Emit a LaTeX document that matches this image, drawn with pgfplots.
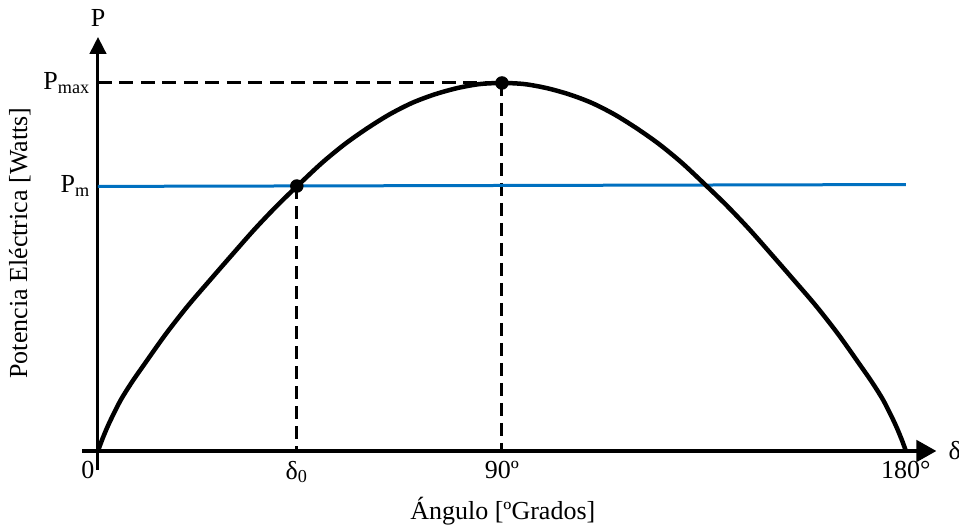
\documentclass[border=0pt]{standalone}
\usepackage{fontspec}
\setmainfont{Liberation Serif}
\usepackage{pgfplots}
\pgfplotsset{compat=1.18}
\usetikzlibrary{arrows.meta}
\definecolor{pmblue}{RGB}{0,112,192}

% Power-angle curve P(delta), per unit of Pmax
\pgfplotstableread{
d     p
0     0
1     0.033
2.5   0.076
5     0.137
7.5   0.186
10    0.230
15    0.316
20    0.394
25    0.465
30    0.535
35    0.604
40    0.668
45    0.727
50    0.784
55    0.834
60    0.877
65    0.915
70    0.946
75    0.969
80    0.986
85    0.997
90    1.000
95    0.997
100   0.986
105   0.969
110   0.946
115   0.915
120   0.877
125   0.834
130   0.784
135   0.727
140   0.668
145   0.604
150   0.535
155   0.465
160   0.394
165   0.316
170   0.230
172.5 0.186
175   0.137
177.5 0.076
179   0.033
180   0
}\curvetable

\begin{document}
\begin{tikzpicture}[font=\fontsize{10.4}{12}\selectfont]
\begin{axis}[
  scale only axis,
  width=383.6pt, height=212.4pt,
  xmin=-21.83, xmax=191.83,
  ymin=-0.2174, ymax=1.2255,
  axis lines=none,
  clip=false,
]
% axes
\draw[line width=1.6pt, -{Triangle[length=8pt,width=8.5pt]}]
  (axis cs:-3.56,0) -- (axis cs:186.8,0);
\draw[line width=1.2pt, -{Triangle[length=6.8pt,width=6.6pt]}]
  (axis cs:0,-0.052) -- (axis cs:0,1.125);

% guide lines
\addplot[black, line width=1.2pt, dash pattern=on 5.6pt off 3pt]
  coordinates {(0,1) (90,1)};
\addplot[black, line width=1.2pt, dash pattern=on 5.2pt off 2.8pt]
  coordinates {(90,1) (90,0)};
\addplot[black, line width=1.2pt, dash pattern=on 5.2pt off 2.8pt]
  coordinates {(44.3,0.72) (44.3,0)};

% mechanical power
\addplot[pmblue, line width=1.2pt] coordinates {(0,0.719) (180,0.724)};

% electrical power
\addplot[black, line width=1.8pt, smooth] table[x=d, y=p] {\curvetable};

% operating points
\addplot[only marks, mark=*, mark size=2.5pt, black]
  coordinates {(44.3,0.72) (90,1)};

% labels
\node at (axis cs:0,1.177) {P};
\node[anchor=east, inner sep=0pt] at (axis cs:-1.56,1.0) {P\textsubscript{max}};
\node[anchor=east, inner sep=0pt] at (axis cs:-1.56,0.72) {P\textsubscript{m}};
\node at (axis cs:-2.23,-0.0516) {0};
\node at (axis cs:44.3,-0.0571) {δ\textsubscript{0}};
\node at (axis cs:90,-0.0516) {90º};
\node at (axis cs:180,-0.0516) {180°};
\node[anchor=west, inner sep=0pt] at (axis cs:189.4,0) {δ};
\node at (axis cs:90.2,-0.163) {Ángulo [ºGrados]};
\node[rotate=90] at (axis cs:-17.4,0.565) {Potencia Eléctrica [Watts]};
\end{axis}
\pgfresetboundingbox
\useasboundingbox (current axis.south west) rectangle (current axis.north east);
\end{tikzpicture}
\end{document}
